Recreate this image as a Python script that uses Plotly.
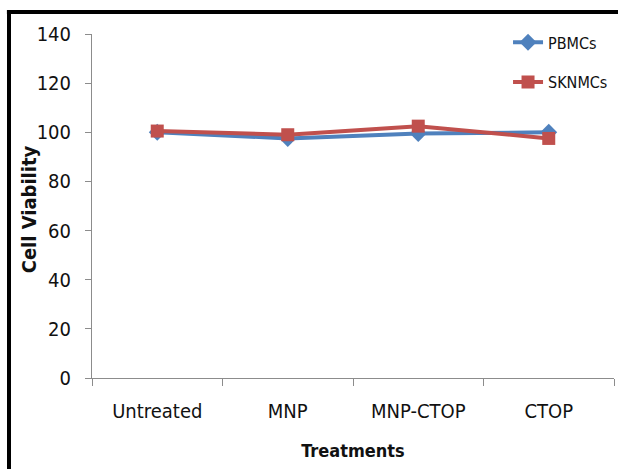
import plotly.graph_objects as go

treatments = ["Untreated", "MNP", "MNP-CTOP", "CTOP"]
pbmcs = [100, 97.5, 99.5, 100]
sknmcs = [100.5, 99, 102.5, 97.5]
y_ticks = [0, 20, 40, 60, 80, 100, 120, 140]

FONT = "DejaVu Sans Condensed, Liberation Sans Narrow, sans-serif"

fig = go.Figure()
fig.add_trace(go.Scatter(
    x=treatments, y=pbmcs, name="PBMCs", mode="lines+markers",
    line=dict(color="#4F81BD", width=4),
    marker=dict(symbol="diamond", size=13, color="#4F81BD"),
    legendgroup="a",
))
fig.add_trace(go.Scatter(
    x=treatments, y=sknmcs, name="SKNMCs", mode="lines+markers",
    line=dict(color="#C0504D", width=4),
    marker=dict(symbol="square", size=13, color="#C0504D"),
    legendgroup="b",
))

fig.update_layout(
    width=618, height=469,
    margin=dict(l=92, r=4, t=34, b=91),
    paper_bgcolor="white", plot_bgcolor="white",
    font=dict(family=FONT, color="#111111"),
    showlegend=True,
    legend=dict(
        x=0.797, y=1.025, xanchor="left", yanchor="top",
        font=dict(size=16, family=FONT),
        traceorder="grouped", tracegroupgap=16,
        bgcolor="rgba(0,0,0,0)",
    ),
    xaxis=dict(
        type="category", range=[-0.5, 3.5],
        showline=True, linecolor="#8c8c8c", linewidth=1,
        ticks="outside", ticklen=7, tickcolor="#8c8c8c",
        tickson="boundaries", ticklabelstandoff=15,
        tickfont=dict(size=20, family=FONT),
        title=dict(text="<b>Treatments</b>", font=dict(size=18, family=FONT), standoff=22),
        showgrid=False, zeroline=False,
    ),
    yaxis=dict(
        range=[0, 140], tickvals=y_ticks,
        showline=True, linecolor="#8c8c8c", linewidth=1,
        ticks="outside", ticklen=6, tickcolor="#8c8c8c",
        ticklabelstandoff=10,
        tickfont=dict(size=20, family=FONT),
        showgrid=False, zeroline=False,
    ),
)

# Y-axis title placed close to the tick labels
fig.add_annotation(
    text="<b>Cell Viability</b>", xref="paper", yref="paper",
    x=-0.119, y=0.49, textangle=-90, showarrow=False,
    xanchor="center", yanchor="middle",
    font=dict(size=20, family=FONT, color="#111111"),
)

# Frame lines along the top and left edges of the figure
fig.add_shape(type="line", xref="paper", yref="paper",
              x0=-0.163, x1=1.2, y0=1.064, y1=1.064,
              line=dict(color="black", width=4))
fig.add_shape(type="line", xref="paper", yref="paper",
              x0=-0.159, x1=-0.159, y0=1.07, y1=-0.3,
              line=dict(color="black", width=4))

fig.write_html("out.html")
